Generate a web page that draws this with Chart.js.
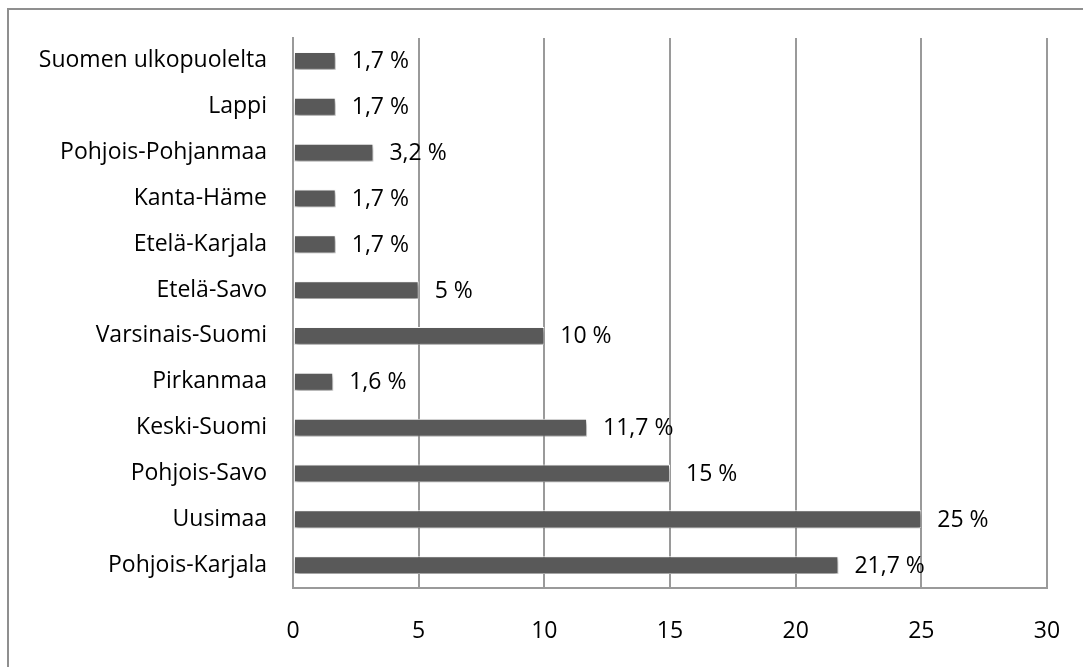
<!DOCTYPE html>
<html>
<head>
<meta charset="utf-8">
<script src="https://cdn.jsdelivr.net/npm/chart.js@4.4.0/dist/chart.umd.min.js"></script>
<style>
  html, body { margin: 0; padding: 0; background: #fff; }
  #wrap { width: 1083px; height: 667px; position: relative; }
</style>
</head>
<body>
<div id="wrap"><canvas id="c" width="1083" height="667"></canvas></div>
<script>
const categories = [
  "Suomen ulkopuolelta", "Lappi", "Pohjois-Pohjanmaa", "Kanta-Häme",
  "Etelä-Karjala", "Etelä-Savo", "Varsinais-Suomi", "Pirkanmaa",
  "Keski-Suomi", "Pohjois-Savo", "Uusimaa", "Pohjois-Karjala"
];
const shares = [1.7, 1.7, 3.2, 1.7, 1.7, 5, 10, 1.6, 11.7, 15, 25, 21.7];
const xTicks = [0, 5, 10, 15, 20, 25, 30];

const FONT = "'Open Sans', sans-serif";
const FS = 23;

const frame = {
  id: 'frame',
  beforeDraw(chart) {
    const ctx = chart.ctx;
    ctx.save();
    ctx.fillStyle = '#fff';
    ctx.fillRect(0, 0, chart.width, chart.height);
    ctx.strokeStyle = '#8f8f8f';
    ctx.lineWidth = 2;
    ctx.beginPath();
    ctx.moveTo(8, 668);
    ctx.lineTo(8, 9);
    ctx.lineTo(1084, 9);
    ctx.stroke();
    ctx.restore();
  }
};

const shadow = {
  id: 'shadow',
  beforeDatasetDraw(chart) {
    const ctx = chart.ctx;
    ctx.save();
    ctx.shadowColor = 'rgba(0,0,0,0.4)';
    ctx.shadowBlur = 4;
    ctx.shadowOffsetX = 1;
    ctx.shadowOffsetY = 3;
  },
  afterDatasetDraw(chart) {
    chart.ctx.restore();
  }
};

const valueLabels = {
  id: 'valueLabels',
  afterDatasetsDraw(chart) {
    const ctx = chart.ctx;
    const meta = chart.getDatasetMeta(0);
    ctx.save();
    ctx.font = FS + 'px ' + FONT;
    ctx.fillStyle = '#000';
    ctx.textAlign = 'left';
    ctx.textBaseline = 'middle';
    meta.data.forEach((el, i) => {
      const txt = String(shares[i]).replace('.', ',') + ' %';
      ctx.fillText(txt, el.x + 16, el.y + 1);
    });
    ctx.restore();
  }
};

new Chart(document.getElementById('c'), {
  type: 'bar',
  data: {
    labels: categories,
    datasets: [{
      data: shares,
      backgroundColor: '#595959',
      borderColor: '#ffffff',
      borderWidth: 1,
      borderSkipped: false,
      barPercentage: 0.39,
      categoryPercentage: 1.0
    }]
  },
  options: {
    indexAxis: 'y',
    responsive: false,
    animation: false,
    devicePixelRatio: 1,
    layout: { padding: { left: 0, top: 38, right: 36, bottom: 0 } },
    plugins: { legend: { display: false }, tooltip: { enabled: false } },
    scales: {
      x: {
        min: 0, max: 30,
        afterBuildTicks(scale) { scale.ticks = xTicks.map(v => ({ value: v })); },
        afterFit(scale) { scale.height = 79; scale.paddingRight = 0; scale.paddingLeft = 0; },
        grid: { color: '#9a9a9a', lineWidth: 2, drawTicks: false },
        border: { color: '#9a9a9a', width: 2 },
        ticks: { color: '#000', font: { family: FONT, size: FS }, padding: 30, maxRotation: 0 }
      },
      y: {
        afterFit(scale) { scale.width = 293; scale.paddingTop = 0; scale.paddingBottom = 0; },
        grid: { display: false, drawTicks: false },
        border: { color: '#9a9a9a', width: 2 },
        ticks: { color: '#000', font: { family: FONT, size: FS }, padding: 26 }
      }
    }
  },
  plugins: [frame, shadow, valueLabels]
});
</script>
</body>
</html>
